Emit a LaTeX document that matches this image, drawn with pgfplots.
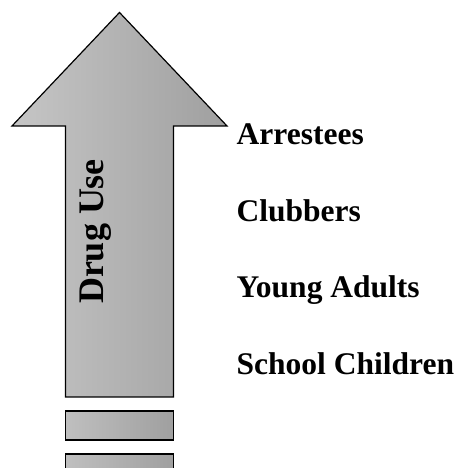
\documentclass[border=0pt]{standalone}
\usepackage{pgfplots}
\pgfplotsset{compat=1.18}
\usepackage{fontspec}
\setmainfont{Liberation Serif}
\begin{document}
\begin{tikzpicture}
\begin{axis}[
  width=459bp, height=468bp, scale only axis,
  xmin=0, xmax=459, ymin=0, ymax=468,
  hide axis, clip=true,
]
% invisible frame so that the picture keeps the full canvas
\addplot[draw=none] coordinates {(0,0) (459,468)};
% arrow (pixel coordinates, y measured from bottom)
\addplot[draw=black, line width=1.2bp, left color=gray!45, right color=gray!75]
  coordinates {(119.5,455.5) (227,342) (173.5,342) (173.5,71) (65.5,71) (65.5,342) (12,342) (119.5,455.5)} -- cycle;
% dashes below the shaft
\addplot[draw=black, line width=1.2bp, left color=gray!50, right color=gray!75]
  coordinates {(65.5,57) (173.5,57) (173.5,28) (65.5,28) (65.5,57)} -- cycle;
\addplot[draw=black, line width=1.2bp, left color=gray!50, right color=gray!75]
  coordinates {(65.5,14) (173.5,14) (173.5,-1.5) (65.5,-1.5) (65.5,14)} -- cycle;
\node[rotate=90, anchor=base, inner sep=0pt, font=\fontsize{36bp}{42bp}\selectfont\bfseries] at (axis cs:103,236.5) {Drug Use};
\node[anchor=base west, inner sep=0pt, font=\fontsize{31.5bp}{36bp}\selectfont\bfseries] at (axis cs:236.5,323) {Arrestees};
\node[anchor=base west, inner sep=0pt, font=\fontsize{31.5bp}{36bp}\selectfont\bfseries] at (axis cs:236.5,246) {Clubbers};
\node[anchor=base west, inner sep=0pt, font=\fontsize{31.5bp}{36bp}\selectfont\bfseries] at (axis cs:236.5,170) {Young Adults};
\node[anchor=base west, inner sep=0pt, font=\fontsize{31.5bp}{36bp}\selectfont\bfseries] at (axis cs:236.5,93) {School Children};
\end{axis}
\end{tikzpicture}
\end{document}
